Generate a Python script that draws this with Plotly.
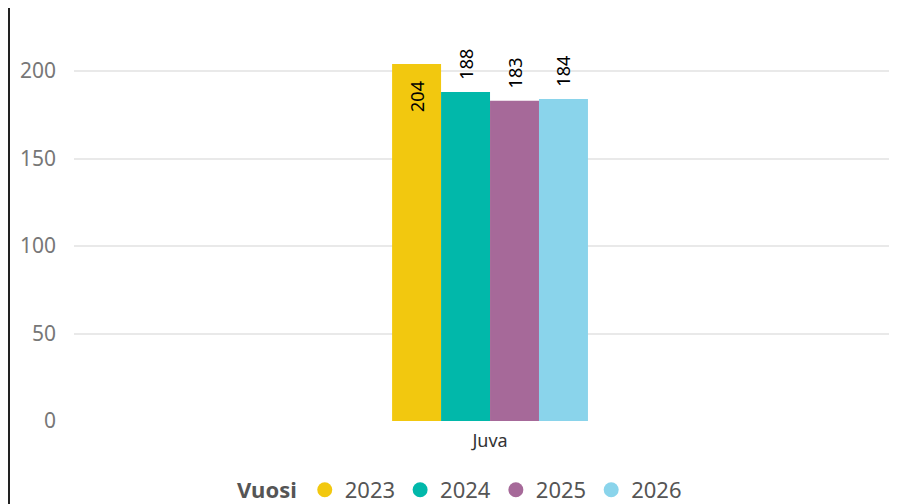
import plotly.graph_objects as go

categories = ["Juva"]
years = ["2023", "2024", "2025", "2026"]
values = [204, 188, 183, 184]
colors = ["#F2C80F", "#01B8AA", "#A66999", "#8AD4EB"]
positions = ["inside", "outside", "outside", "outside"]

FONT = "Segoe UI, Noto Sans, Open Sans, sans-serif"
NB = "\u00a0"

fig = go.Figure()
for yr, v, c, p in zip(years, values, colors, positions):
    label = (str(v) + NB * 3) if p == "inside" else (NB * 2 + str(v))
    fig.add_trace(go.Bar(
        x=categories, y=[v], name=yr, marker=dict(color=c, line=dict(width=0)),
        text=[label], textposition=p, textangle=-90, insidetextanchor="end",
        textfont=dict(size=18, color="#000000", family=FONT),
        cliponaxis=False, showlegend=False,
    ))
    fig.add_trace(go.Scatter(
        x=[None], y=[None], mode="markers", name=yr,
        marker=dict(color=c, size=15, symbol="circle"), showlegend=True,
    ))

# page body has an 8px margin, so the figure is drawn 8px in from the window corner
OFF = 8
W, H = 897 - OFF, 504 - OFF
ml, mr, mt, mb = 74 - OFF, 0, 0, H - (421 - OFF)
pw = W - ml - mr
ph = H - mt - mb

fig.update_layout(
    width=W, height=H,
    margin=dict(l=ml, r=mr, t=mt, b=mb, autoexpand=False),
    paper_bgcolor="white", plot_bgcolor="white",
    barmode="group", bargap=0.762, bargroupgap=0,
    font=dict(family=FONT, color="#666666"),
    showlegend=True,
    legend=dict(
        orientation="h", x=(461 - 74) / pw, xanchor="center",
        y=-(490 - 421) / ph, yanchor="middle",
        title=dict(text="<b>Vuosi</b>", font=dict(size=22, color="#555555", family=FONT)),
        font=dict(size=22, color="#555555", family=FONT),
        itemsizing="trace", tracegroupgap=0,
    ),
    xaxis=dict(
        type="category", range=[-0.5055, 0.4945], showgrid=False, showline=False,
        ticks="", tickfont=dict(size=18, color="#333333", family=FONT), ticklabelstandoff=7,
    ),
    yaxis=dict(
        range=[0, ph / 1.75], tickvals=[0, 50, 100, 150, 200], showgrid=True,
        gridcolor="#E9E9E9", gridwidth=1.5, zeroline=False, showline=False,
        tickfont=dict(size=21, color="#777777", family=FONT), ticklabelstandoff=17,
    ),
    shapes=[dict(
        type="line", xref="paper", yref="paper",
        x0=(1 - ml) / pw, x1=(1 - ml) / pw, y0=-mb / ph, y1=1.0,
        line=dict(color="#222222", width=2),
    )],
)

fig.write_html("out.html")
